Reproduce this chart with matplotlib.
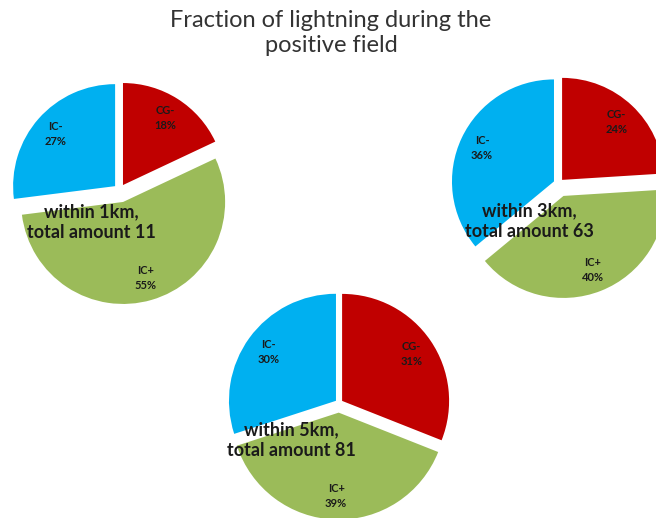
import numpy as np
import matplotlib
matplotlib.use("Agg")
import matplotlib.pyplot as plt

# data
categories = ["CG-", "IC+", "IC-"]
pct_1km = [18, 55, 27]
pct_3km = [24, 40, 36]
pct_5km = [31, 39, 30]
distances = ["1km", "3km", "5km"]
totals = [11, 63, 81]

colors = ["#C00000", "#9BBB59", "#00B0F0"]
W, H = 656, 518

plt.rcParams["font.family"] = ["Lato", "DejaVu Sans"]

fig = plt.figure(figsize=(W / 100, H / 100), dpi=100)
ax = fig.add_axes([0, 0, 1, 1])

# layout in pixel coords (y measured from top); explode as fraction of radius
layout = [
    dict(c=(119.7, 190.2), r=102, explode=[0.06, 0.12, 0.06], txt=(91, 222)),
    dict(c=(558.6, 183.6), r=102, explode=[0.05, 0.13, 0.05], txt=(529, 221)),
    dict(c=(339.0, 403.0), r=107, explode=[0.035, 0.09, 0.035], txt=(291, 440)),
]

for vals, dist, tot, lay in zip([pct_1km, pct_3km, pct_5km], distances, totals, layout):
    cx, cy = lay["c"]
    r = lay["r"]
    # pie's explode offset is in data units, so scale by the radius
    wedges, _ = ax.pie(vals, colors=colors, startangle=90, counterclock=False,
                       explode=[e * r for e in lay["explode"]],
                       center=(cx, H - cy), radius=r,
                       wedgeprops=dict(linewidth=0))
    for w, name, v in zip(wedges, categories, vals):
        th = np.deg2rad((w.theta1 + w.theta2) / 2)
        x0, y0 = w.center
        ax.text(x0 + 0.78 * w.r * np.cos(th), y0 + 0.78 * w.r * np.sin(th),
                f"{name}\n{v}%", ha="center", va="center", fontsize=8,
                fontweight="bold", color="#1a1a1a", linespacing=1.45)
    tx, ty = lay["txt"]
    ax.text(tx, H - ty, f"within {dist},\ntotal amount {tot}", ha="center",
            va="center", fontsize=13, fontweight="bold", color="#1a1a1a",
            linespacing=1.3)

ax.text(331, H - 33, "Fraction of lightning during the\npositive field",
        ha="center", va="center", fontsize=17, color="#333333",
        linespacing=1.25)

ax.set_xlim(0, W)
ax.set_ylim(0, H)
ax.set_aspect("equal")
ax.axis("off")

fig.savefig("out.png", dpi=100)
